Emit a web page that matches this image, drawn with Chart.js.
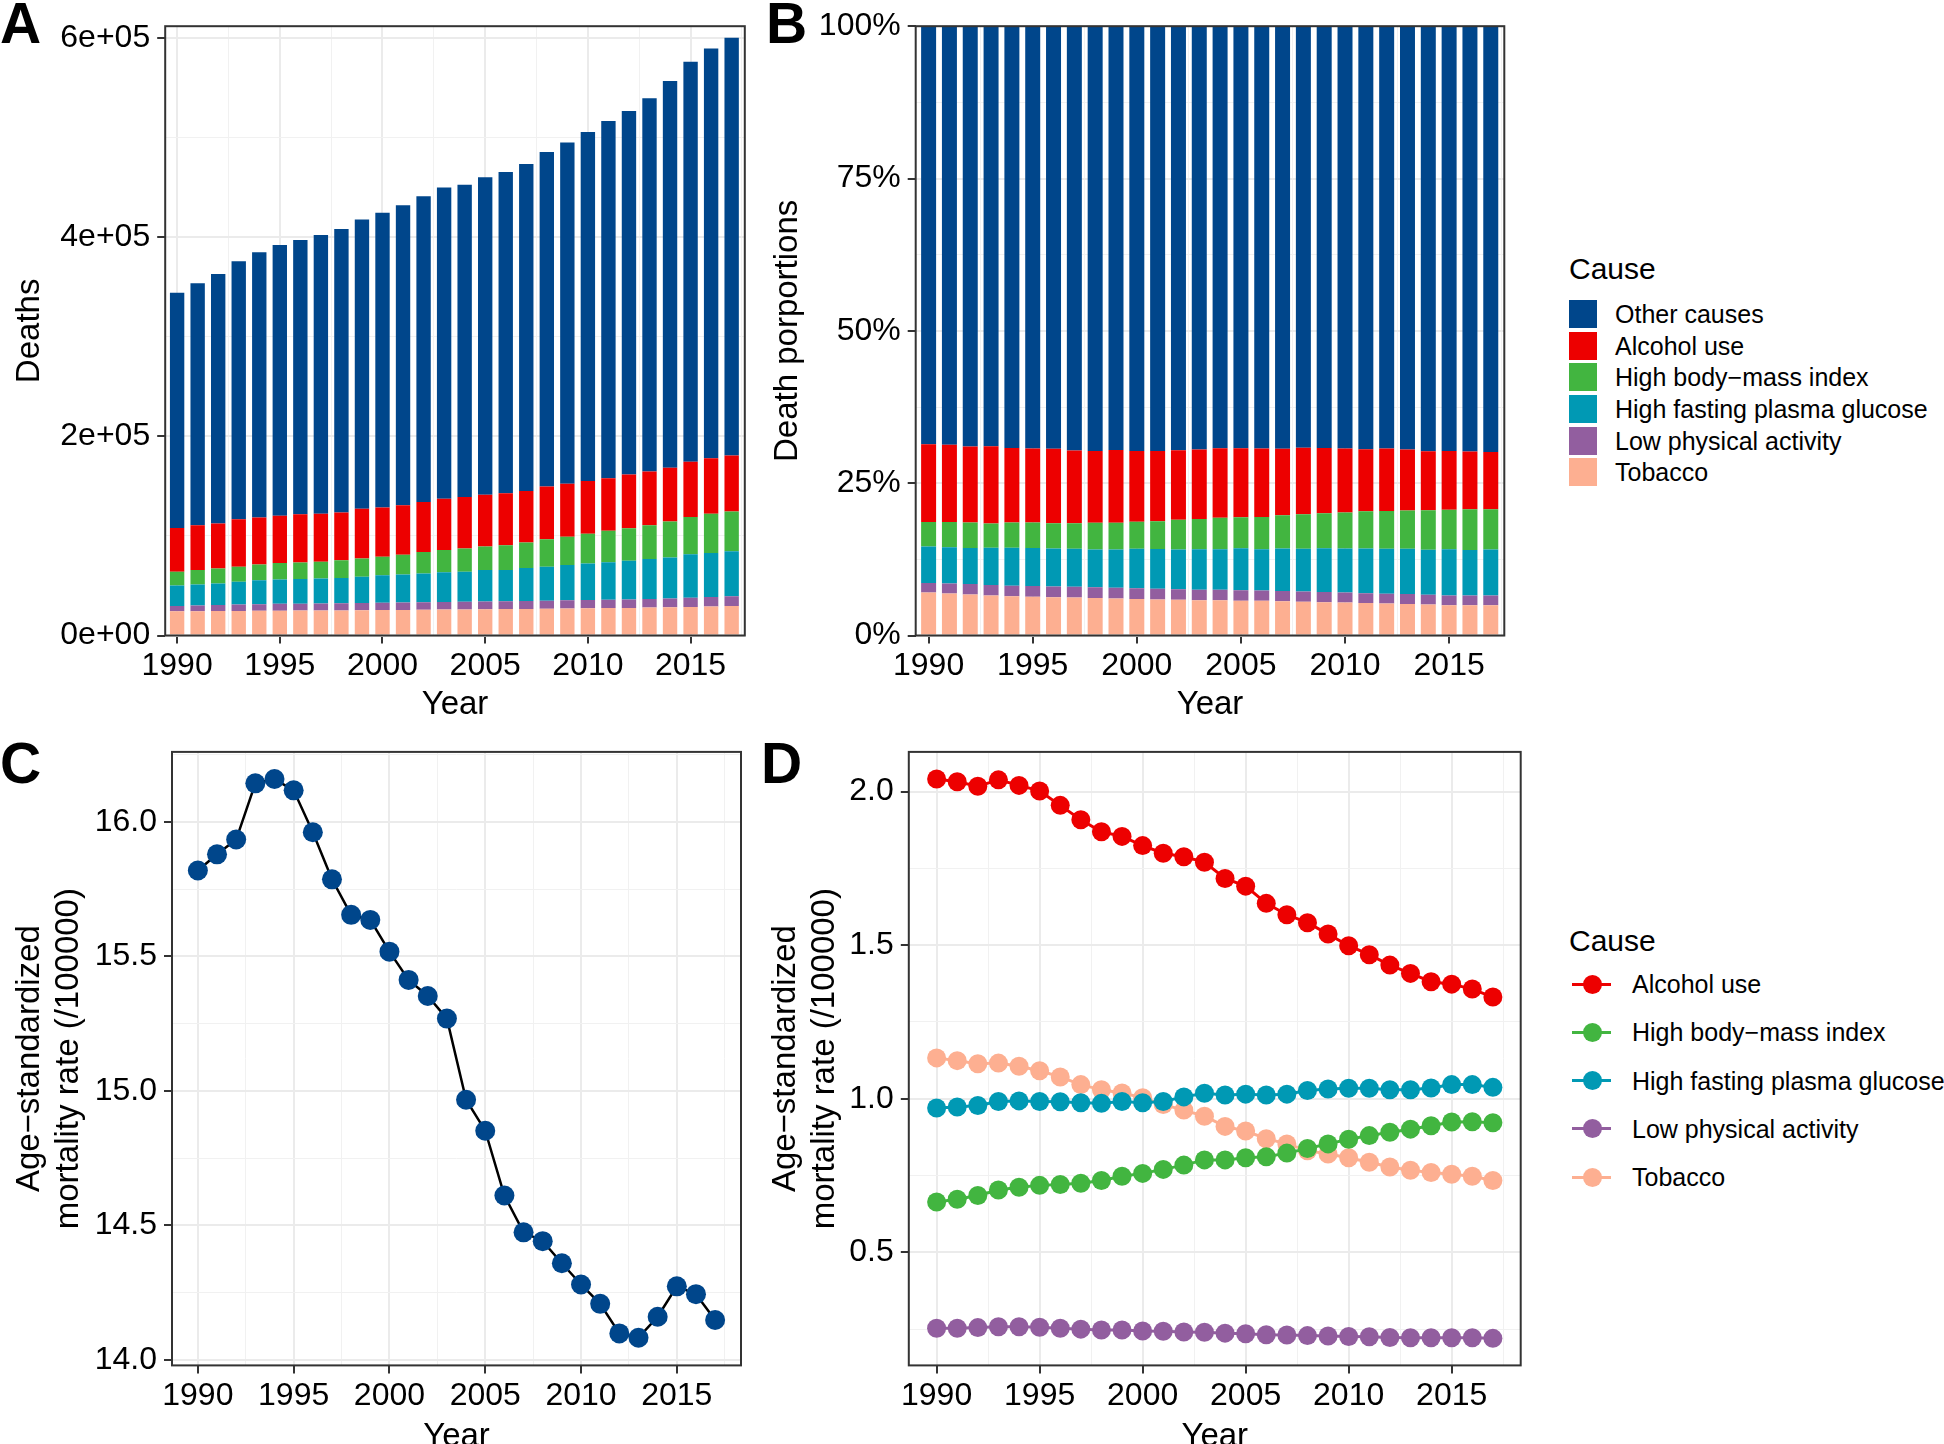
<!DOCTYPE html>
<html>
<head>
<meta charset="utf-8">
<script src="https://cdn.jsdelivr.net/npm/chart.js@4.4.1/dist/chart.umd.min.js"></script>
<style>
  html, body { margin: 0; padding: 0; background: #fff; overflow: hidden; }
  body { width: 1944px; height: 1444px; position: relative; font-family: "Liberation Sans", Arial, sans-serif; color: #000; }
  canvas { position: absolute; }
  .tag { position: absolute; font-weight: bold; font-size: 57px; line-height: 57px; }
  .leg-title { position: absolute; left: 1569px; font-size: 30px; line-height: 30px; }
  .leg-row { position: absolute; left: 1569px; height: 28px; display: flex; align-items: center; font-size: 25px; line-height: 28px; white-space: nowrap; }
  .leg-box { width: 28px; height: 28px; margin-right: 18px; flex: none; }
  .leg-sym { position: relative; width: 63px; height: 28px; flex: none; }
  .leg-sym .ln { position: absolute; left: 3px; top: 12.5px; width: 39px; height: 3px; }
  .leg-sym .pt { position: absolute; left: 13.5px; top: 4.5px; width: 19px; height: 19px; border-radius: 50%; }
</style>
</head>
<body>
<canvas id="chartA" width="760" height="720" style="left:0;top:0"></canvas>
<canvas id="chartB" width="760" height="720" style="left:760px;top:0"></canvas>
<canvas id="chartC" width="760" height="740" style="left:0;top:720px"></canvas>
<canvas id="chartD" width="780" height="740" style="left:760px;top:720px"></canvas>
<div class="tag" style="left:0;top:-5px">A</div>
<div class="tag" style="left:766px;top:-5px">B</div>
<div class="tag" style="left:0;top:735px">C</div>
<div class="tag" style="left:761px;top:735px">D</div>
<div id="legendB"></div>
<div id="legendD"></div>
<script>
const years = [1990, 1991, 1992, 1993, 1994, 1995, 1996, 1997, 1998, 1999, 2000, 2001, 2002, 2003,
  2004, 2005, 2006, 2007, 2008, 2009, 2010, 2011, 2012, 2013, 2014, 2015, 2016, 2017];

// panels A and B: deaths by cause
const causes = ['Other causes', 'Alcohol use', 'High body−mass index', 'High fasting plasma glucose', 'Low physical activity', 'Tobacco'];
const causeColors = ['#00468B', '#ED0000', '#42B540', '#0099B4', '#925E9F', '#FDAF91'];

const deathsOther = [236200, 243000, 250400, 259100, 266400, 271800, 275600, 280100, 284700, 290700, 296100, 301200, 307100, 312600,
  313600, 319000, 322700, 328600, 335900, 342800, 350600, 358800, 365200, 374800, 388600, 401800, 411500, 419700];
const deathsAlcohol = [43900, 44900, 45300, 47600, 47100, 47600, 48500, 48100, 48100, 49800, 49400, 49900, 50300, 51300,
  51700, 52100, 52200, 51700, 53100, 53100, 53100, 52600, 54000, 54000, 54000, 55400, 55800, 56300];
const deathsBmi = [13800, 14600, 15100, 15000, 16000, 16500, 16400, 16900, 17800, 18400, 18800, 19700, 21600, 22400,
  23300, 23400, 24700, 25700, 27500, 28400, 29800, 31600, 32500, 33900, 36100, 37500, 39400, 39800];
const deathsFpg = [20600, 21100, 21500, 23000, 23900, 24500, 24800, 25000, 25300, 26300, 27400, 28100, 28800, 29900,
  30200, 31800, 31600, 33100, 34100, 35600, 36700, 37800, 38900, 40200, 41100, 43700, 44200, 45200];
const deathsLpa = [5400, 5800, 6200, 6500, 6700, 6900, 7000, 7100, 7200, 7400, 7500, 7600, 7600, 7700,
  7800, 7800, 7800, 7900, 8100, 8200, 8300, 8400, 8500, 8700, 8900, 9100, 9400, 9800];
const deathsTobacco = [24300, 24400, 24500, 24600, 24800, 24900, 25000, 25100, 25200, 25300, 25500, 25600, 25800, 26000,
  26100, 26300, 26500, 26700, 26900, 27100, 27300, 27500, 27700, 28000, 28300, 28700, 29200, 29700];

// panel C: all causes, age-standardized rate
const rateTotal = [15.82, 15.88, 15.935, 16.144, 16.16, 16.118, 15.962, 15.787, 15.655, 15.636, 15.518, 15.413, 15.353, 15.269,
  14.967, 14.852, 14.611, 14.474, 14.441, 14.359, 14.28, 14.208, 14.098, 14.082, 14.16, 14.273, 14.244, 14.148];

// panel D: rate by risk factor
const rateAlcohol = [2.041, 2.032, 2.017, 2.038, 2.02, 2.002, 1.955, 1.908, 1.869, 1.854, 1.824, 1.799, 1.788, 1.77,
  1.717, 1.692, 1.636, 1.599, 1.573, 1.536, 1.498, 1.469, 1.435, 1.408, 1.381, 1.373, 1.357, 1.331];
const rateBmi = [0.664, 0.673, 0.685, 0.703, 0.712, 0.718, 0.721, 0.725, 0.734, 0.748, 0.757, 0.77, 0.784, 0.801,
  0.801, 0.808, 0.811, 0.823, 0.838, 0.853, 0.868, 0.88, 0.891, 0.901, 0.912, 0.924, 0.925, 0.922];
const rateFpg = [0.97, 0.973, 0.978, 0.991, 0.993, 0.991, 0.99, 0.987, 0.985, 0.991, 0.987, 0.991, 1.006, 1.018,
  1.012, 1.015, 1.012, 1.015, 1.027, 1.032, 1.034, 1.034, 1.029, 1.029, 1.035, 1.046, 1.046, 1.037];
const rateLpa = [0.253, 0.253, 0.255, 0.258, 0.258, 0.256, 0.253, 0.25, 0.247, 0.247, 0.244, 0.243, 0.241, 0.24,
  0.237, 0.235, 0.232, 0.231, 0.229, 0.228, 0.226, 0.225, 0.223, 0.222, 0.222, 0.222, 0.222, 0.22];
const rateTobacco = [1.133, 1.124, 1.114, 1.116, 1.106, 1.091, 1.071, 1.046, 1.029, 1.019, 1.003, 0.981, 0.963, 0.943,
  0.91, 0.895, 0.87, 0.853, 0.831, 0.82, 0.808, 0.793, 0.778, 0.767, 0.76, 0.754, 0.748, 0.734];
const riskCauses = ['Alcohol use', 'High body−mass index', 'High fasting plasma glucose', 'Low physical activity', 'Tobacco'];
const riskColors = ['#ED0000', '#42B540', '#0099B4', '#925E9F', '#FDAF91'];

// tick values and labels
const yearTicks = [1990, 1995, 2000, 2005, 2010, 2015];
const yearTickLabels = ['1990', '1995', '2000', '2005', '2010', '2015'];
const deathTicks = [0, 200000, 400000, 600000];
const deathTickLabels = ['0e+00', '2e+05', '4e+05', '6e+05'];
const shareTicks = [0, 25, 50, 75, 100];
const shareTickLabels = ['0%', '25%', '50%', '75%', '100%'];
const rateTicksC = [14.0, 14.5, 15.0, 15.5, 16.0];
const rateTickLabelsC = ['14.0', '14.5', '15.0', '15.5', '16.0'];
const rateTicksD = [0.5, 1.0, 1.5, 2.0];
const rateTickLabelsD = ['0.5', '1.0', '1.5', '2.0'];

Chart.defaults.font.family = '"Liberation Sans", Arial, sans-serif';
Chart.defaults.color = '#000';

const toPoints = vals => years.map((yr, i) => ({ x: yr, y: vals[i] }));

// ggplot-like axis: major + minor grid, ticks only on majors, fixed size
function axis(o) {
  const minor = [];
  for (let v = o.major[0] - o.step / 2; v <= o.max; v += o.step) {
    if (v >= o.min && !o.major.includes(v)) minor.push(v);
  }
  const majorIdx = v => o.major.findIndex(m => Math.abs(m - v) < 1e-9);
  const isMajor = c => c.tick && majorIdx(c.tick.value) >= 0;
  return {
    type: 'linear',
    min: o.min,
    max: o.max,
    bounds: 'data',
    offset: false,
    afterBuildTicks: ax => {
      ax.ticks = o.major.concat(minor).sort((a, b) => a - b).map(v => ({ value: v }));
    },
    afterFit: ax => {
      if (ax.isHorizontal()) ax.height = o.size;
      else ax.width = o.size;
    },
    ticks: {
      autoSkip: false,
      maxRotation: 0,
      padding: o.tickPad,
      font: { size: 32 },
      color: '#000',
      callback: v => {
        const i = majorIdx(v);
        return i < 0 ? '' : o.labels[i];
      },
    },
    grid: {
      offset: false,
      color: c => isMajor(c) ? '#EBEBEB' : '#F1F1F1',
      lineWidth: c => isMajor(c) ? 2 : 1,
      tickColor: c => isMajor(c) ? '#333333' : 'rgba(0,0,0,0)',
      tickWidth: 2,
      tickLength: 8,
    },
    border: { display: false },
    title: {
      display: true,
      text: o.title,
      color: '#000',
      font: { size: 33, lineHeight: 1.18 },
      padding: o.titlePad,
    },
  };
}

const panelBorder = {
  id: 'panelBorder',
  afterDraw(chart) {
    const { ctx, chartArea: a } = chart;
    ctx.save();
    ctx.strokeStyle = '#333333';
    ctx.lineWidth = 2;
    ctx.strokeRect(a.left, a.top, a.right - a.left, a.bottom - a.top);
    ctx.restore();
  },
};

function baseOptions(pad) {
  return {
    responsive: false,
    animation: false,
    devicePixelRatio: 1,
    layout: { padding: pad },
    plugins: { legend: { display: false }, tooltip: { enabled: false } },
  };
}

const deathSeries = [deathsOther, deathsAlcohol, deathsBmi, deathsFpg, deathsLpa, deathsTobacco];
const stackOrder = [5, 4, 3, 2, 1, 0]; // tobacco at the bottom of the stack
const totals = years.map((_, i) => deathSeries.reduce((s, arr) => s + arr[i], 0));

// A: deaths
new Chart(document.getElementById('chartA'), {
  type: 'bar',
  data: {
    datasets: stackOrder.map(k => ({
      label: causes[k],
      data: toPoints(deathSeries[k]),
      backgroundColor: causeColors[k],
      borderWidth: 0,
      categoryPercentage: 1,
      barPercentage: 0.7,
    })),
  },
  options: {
    ...baseOptions({ left: 0, top: 21.6, right: 15.2, bottom: 0 }),
    scales: {
      x: { ...axis({ min: 1989.42, max: 2017.64, major: yearTicks, labels: yearTickLabels, step: 5,
        size: 84.5, tickPad: 3, title: 'Year', titlePad: { top: 0, bottom: -4 } }), stacked: true },
      y: { ...axis({ min: 0, max: 612000, major: deathTicks, labels: deathTickLabels, step: 200000,
        size: 165.2, tickPad: 7, title: 'Deaths', titlePad: { top: 10, bottom: 0 } }), stacked: true },
    },
  },
  plugins: [panelBorder],
});

// B: death proportions
new Chart(document.getElementById('chartB'), {
  type: 'bar',
  data: {
    datasets: stackOrder.map(k => ({
      label: causes[k],
      data: toPoints(deathSeries[k].map((v, i) => v / totals[i] * 100)),
      backgroundColor: causeColors[k],
      borderWidth: 0,
      categoryPercentage: 1,
      barPercentage: 0.72,
    })),
  },
  options: {
    ...baseOptions({ left: 0, top: 21.1, right: 15.7, bottom: 0 }),
    scales: {
      x: { ...axis({ min: 1989.38, max: 2017.65, major: yearTicks, labels: yearTickLabels, step: 5,
        size: 84.5, tickPad: 3, title: 'Year', titlePad: { top: 0, bottom: -4 } }), stacked: true },
      y: { ...axis({ min: 0, max: 100, major: shareTicks, labels: shareTickLabels, step: 25,
        size: 155.7, tickPad: 7, title: 'Death porportions', titlePad: { top: 8, bottom: 0 } }), stacked: true },
    },
  },
  plugins: [panelBorder],
});

const rateTitle = ['Age−standardized', 'mortality rate (/100000)'];

// C: overall rate
new Chart(document.getElementById('chartC'), {
  type: 'line',
  data: {
    datasets: [{
      label: 'All',
      data: toPoints(rateTotal),
      borderColor: '#000000',
      borderWidth: 2.5,
      tension: 0,
      pointRadius: 10,
      pointBorderWidth: 0,
      pointBackgroundColor: '#00468B',
      pointBorderColor: '#00468B',
    }],
  },
  options: {
    ...baseOptions({ left: 0, top: 31.9, right: 19, bottom: 0 }),
    scales: {
      x: axis({ min: 1988.65, max: 2018.35, major: yearTicks, labels: yearTickLabels, step: 5,
        size: 94.6, tickPad: 4, title: 'Year', titlePad: { top: 0, bottom: 4 } }),
      y: axis({ min: 13.979, max: 16.261, major: rateTicksC, labels: rateTickLabelsC, step: 0.5,
        size: 172, tickPad: 7, title: rateTitle, titlePad: { top: 10.5, bottom: 0 } }),
    },
  },
  plugins: [panelBorder],
});

// D: rate by cause
const riskSeries = [rateAlcohol, rateBmi, rateFpg, rateLpa, rateTobacco];
new Chart(document.getElementById('chartD'), {
  type: 'line',
  data: {
    datasets: riskSeries.map((vals, k) => ({
      label: riskCauses[k],
      data: toPoints(vals),
      borderColor: riskColors[k],
      borderWidth: 3,
      tension: 0,
      pointRadius: 9.5,
      pointBorderWidth: 0,
      pointBackgroundColor: riskColors[k],
      pointBorderColor: riskColors[k],
    })),
  },
  options: {
    ...baseOptions({ left: 0, top: 31.9, right: 19.3, bottom: 0 }),
    scales: {
      x: axis({ min: 1988.65, max: 2018.35, major: yearTicks, labels: yearTickLabels, step: 5,
        size: 94.6, tickPad: 4, title: 'Year', titlePad: { top: 0, bottom: 4 } }),
      y: axis({ min: 0.132, max: 2.129, major: rateTicksD, labels: rateTickLabelsD, step: 0.5,
        size: 148.8, tickPad: 7, title: rateTitle, titlePad: { top: 6.5, bottom: 0 } }),
    },
  },
  plugins: [panelBorder],
});

// legends
function legendTitle(parent, top) {
  const t = document.createElement('div');
  t.className = 'leg-title';
  t.style.top = top + 'px';
  t.textContent = 'Cause';
  parent.appendChild(t);
}

const legB = document.getElementById('legendB');
legendTitle(legB, 254);
causes.forEach((name, i) => {
  const row = document.createElement('div');
  row.className = 'leg-row';
  row.style.top = (300 + i * 31.67) + 'px';
  row.innerHTML = '<div class="leg-box" style="background:' + causeColors[i] + '"></div><span></span>';
  row.querySelector('span').textContent = name;
  legB.appendChild(row);
});

const legD = document.getElementById('legendD');
legendTitle(legD, 926);
riskCauses.forEach((name, i) => {
  const row = document.createElement('div');
  row.className = 'leg-row';
  row.style.top = (984 + i * 48.3 - 14) + 'px';
  row.innerHTML = '<div class="leg-sym"><div class="ln" style="background:' + riskColors[i] +
    '"></div><div class="pt" style="background:' + riskColors[i] + '"></div></div><span></span>';
  row.querySelector('span').textContent = name;
  legD.appendChild(row);
});
</script>
</body>
</html>
